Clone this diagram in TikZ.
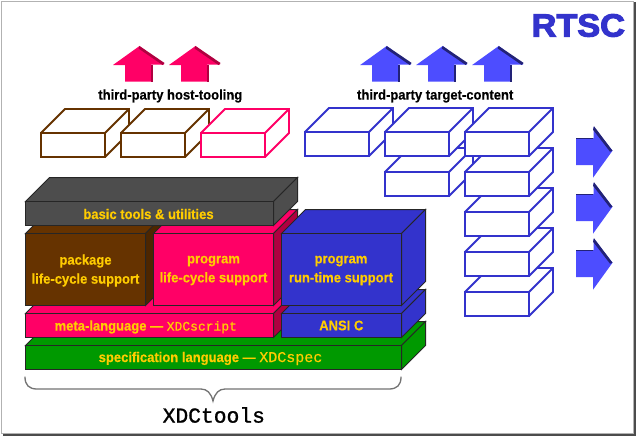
\documentclass[tikz,border=0pt]{standalone}
\usepackage{fontspec}
\setmainfont{Liberation Sans}
\newfontfamily\labfont[FakeStretch=0.93,FakeBold=0.3]{Liberation Sans Bold}
\newfontfamily\codefont[FakeBold=0.6]{Liberation Mono}
\newfontfamily\codebold[FakeBold=1.2]{Liberation Mono}
\newfontfamily\heavyfont[FakeBold=3.5,FakeStretch=1.07]{Liberation Sans Bold}
\definecolor{rtblue}{HTML}{3333CC}
\definecolor{arblue}{HTML}{4D4DFF}
\definecolor{arbluedark}{HTML}{222277}
\definecolor{rtred}{HTML}{FF0066}
\definecolor{rtreddark}{HTML}{B00040}
\definecolor{rtbrown}{HTML}{663300}
\definecolor{rtbrowndark}{HTML}{4D2600}
\definecolor{rtgray}{HTML}{4D4D4D}
\definecolor{rtgreen}{HTML}{009900}
\definecolor{rtyellow}{HTML}{FFCC00}
\tikzset{
  solidedge/.style={draw=black!85,line width=1pt,line join=miter},
  wire/.style={line width=1.9pt,line join=miter,fill=white},
  lab/.style={text=rtyellow,font=\labfont\fontsize{14}{19}\selectfont,align=center,inner sep=0pt},
  head/.style={text=black,font=\labfont\fontsize{14}{16}\selectfont,inner sep=0pt}
}
% x1 y1 x2 y2 depth front top side
\newcommand{\solidcube}[8]{%
  \filldraw[solidedge,fill=#7] (#1,#2) -- ({#1+#5},{#2-#5}) -- ({#3+#5},{#2-#5}) -- (#3,#2) -- cycle;
  \filldraw[solidedge,fill=#8] (#3,#2) -- ({#3+#5},{#2-#5}) -- ({#3+#5},{#4-#5}) -- (#3,#4) -- cycle;
  \filldraw[solidedge,fill=#6] (#1,#2) rectangle (#3,#4);
}
\newcommand{\wirecube}[3]{% x y colour: front 64x24, depth 24
  \filldraw[wire,draw=#3] (#1,#2) -- ({#1+24},{#2-24}) -- ({#1+88},{#2-24}) -- ({#1+88},#2) -- ({#1+64},{#2+24}) -- (#1,{#2+24}) -- cycle;
  \draw[wire,draw=#3] (#1,#2) rectangle ({#1+64},{#2+24});
  \draw[wire,draw=#3,fill=none] ({#1+64},#2) -- ({#1+88},{#2-24});
}
\newcommand{\uparrowshape}[3]{% tip x, main, dark
  \fill[#2] (#1,46) -- ({#1+24.5},64.5) -- ({#1+11.5},64.5) -- ({#1+11.5},81.5) -- ({#1-14.5},81.5) -- ({#1-14.5},65) -- ({#1-26.5},65) -- cycle;
  \fill[#3] (#1,46) -- ({#1+25},63) -- ({#1+23},65) -- ({#1-1},48.5) -- cycle;
  \fill[#3] ({#1+11},65) rectangle ({#1+13},81.5);
}
\newcommand{\rightarrowshape}[3]{% tip y, main, dark
  \fill[#2] (612.5,#1) -- (593,{#1+27}) -- (593,{#1+14.5}) -- (576,{#1+14.5}) -- (576,{#1-12.5}) -- (593.5,{#1-12.5}) -- (593.5,{#1-24}) -- cycle;
  \fill[#3] (594,{#1-24.5}) -- (612.5,#1) -- (610,{#1+1}) -- (593,{#1-21}) -- cycle;
  \fill[#3] (576,{#1-13}) rectangle (593,{#1-11.5});
}
\begin{document}
\begin{tikzpicture}[x=1pt,y=-1pt]
\useasboundingbox (0,0) rectangle (636,436);
\fill[white] (0,0) rectangle (636,436);
% frame
\fill[black!70] (634,2) rectangle (636,436);
\fill[black!70] (3,434) rectangle (636,436);
\draw[black!30,line width=1pt] (1.5,1.5) rectangle (633.5,433.5);
% title
\node[text=rtblue,font=\heavyfont\fontsize{32}{32}\selectfont,inner sep=0pt] (title) at (578.3,25.5) {RTSC};
% up arrows
\uparrowshape{139.5}{rtred}{rtreddark}
\uparrowshape{195.5}{rtred}{rtreddark}
\uparrowshape{386.7}{arblue}{arbluedark}
\uparrowshape{442.7}{arblue}{arbluedark}
\uparrowshape{498.7}{arblue}{arbluedark}
% right arrows
\rightarrowshape{150.7}{arblue}{arbluedark}
\rightarrowshape{206.7}{arblue}{arbluedark}
\rightarrowshape{262.7}{arblue}{arbluedark}
% headings
\node[head] (hosthead) at (170.3,96) {third-party host-tooling};
\node[head] (targethead) at (435.2,96) {third-party target-content};
% wire boxes, host
\wirecube{41}{133}{rtbrown}
\wirecube{121}{133}{rtbrown}
\wirecube{201}{133}{rtred}
% wire boxes, target
\wirecube{305}{132}{rtblue}
\wirecube{385}{172}{rtblue}
\wirecube{385}{132}{rtblue}
\wirecube{465}{292}{rtblue}
\wirecube{465}{252}{rtblue}
\wirecube{465}{212}{rtblue}
\wirecube{465}{172}{rtblue}
\wirecube{465}{132}{rtblue}
% solid stack
\solidcube{25.5}{345.5}{401.5}{369.5}{24}{rtgreen}{rtgreen}{rtgreen}
\solidcube{25.5}{313.5}{273.5}{337.5}{24}{rtred}{rtred}{rtreddark}
\solidcube{281.5}{313.5}{401.5}{337.5}{24}{rtblue}{rtblue}{rtblue}
\solidcube{25.5}{233.5}{145.5}{305.5}{24}{rtbrown}{rtbrown}{rtbrowndark}
\solidcube{153.5}{233.5}{273.5}{305.5}{24}{rtred}{rtred}{rtreddark}
\solidcube{281.5}{233.5}{401.5}{305.5}{24}{rtblue}{rtblue}{rtblue}
\solidcube{25.5}{201.5}{273.5}{225.5}{24}{rtgray}{rtgray}{rtgray}
% labels
\node[lab] (basic) at (148.5,214) {basic tools \& utilities};
\node[lab] (pkg) at (85.5,270.5) {package\\life-cycle support};
\node[lab] (prog) at (213.5,270.5) {program\\life-cycle support};
\node[lab] (run) at (341,270.5) {program\\run-time support};
\node[lab] (meta) at (145.8,327) {meta-language — {\codefont\fontsize{13}{13}\selectfont XDCscript}};
\node[lab] (ansi) at (341.3,325.5) {ANSI C};
\node[lab] (spec) at (210.5,358.5) {specification language — {\codefont\fontsize{15}{15}\selectfont XDCspec}};
% brace
\draw[black!55,line width=1.3pt,line cap=round] (25,377) .. controls (25,385) and (29,389) .. (37,389) -- (201,389) .. controls (207,389) and (211,393) .. (213,401) .. controls (215,393) and (219,389) .. (225,389) -- (389,389) .. controls (397,389) and (401,385) .. (401,377);
\node[text=black,font=\codebold\fontsize{21.3}{21.3}\selectfont,inner sep=0pt] (tools) at (213.8,415) {XDCtools};
\end{tikzpicture}
\end{document}
